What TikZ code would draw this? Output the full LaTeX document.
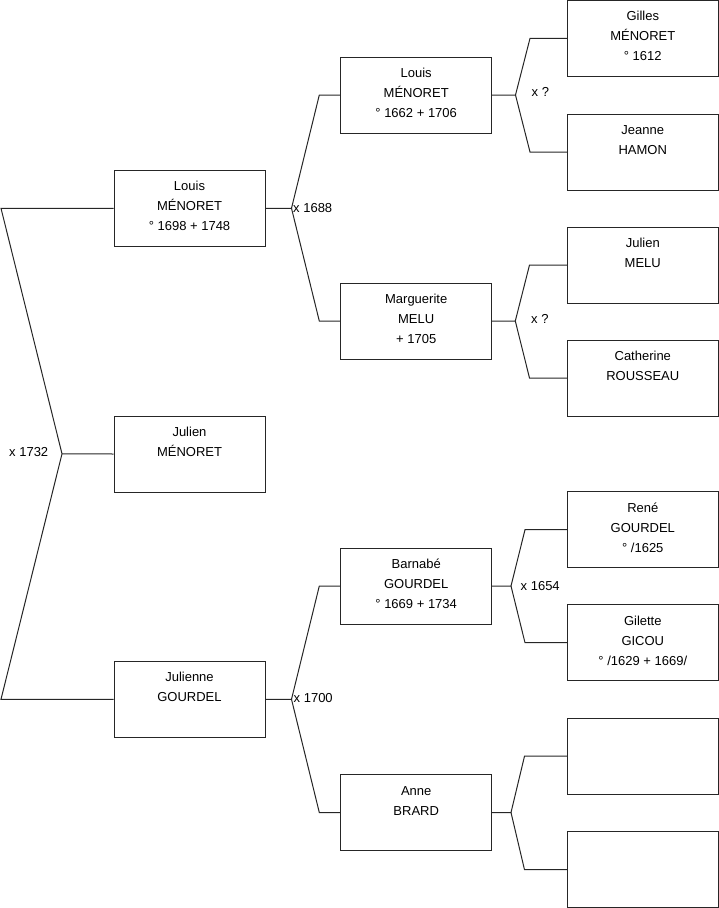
\documentclass[tikz,border=0pt]{standalone}
\usepackage{fontspec}
\setmainfont{Liberation Sans}
\begin{document}
\begin{tikzpicture}[x=1pt,y=-1pt,
  pbox/.style={draw=black!85, line width=1pt, minimum width=151pt, minimum height=76pt, inner sep=0pt, fill=white},
  ptext/.style={anchor=north, inner sep=0pt, align=center, font=\fontsize{13}{20}\selectfont},
  conn/.style={draw=black!85, line width=1pt},
  mlabel/.style={anchor=base west, inner sep=0pt, font=\fontsize{13}{16}\selectfont}]
\useasboundingbox (0,0) rectangle (719,908);
% boxes
\node[pbox] (A) at (189.5,208.3) {};
\node[pbox] (B) at (189.5,454) {};
\node[pbox] (C) at (189.5,699.3) {};
\node[pbox] (D) at (416.2,95) {};
\node[pbox] (E) at (416.2,321) {};
\node[pbox] (F) at (416.2,586) {};
\node[pbox] (G) at (416.2,812.5) {};
\node[pbox] (H) at (642.8,38.4) {};
\node[pbox] (I) at (642.8,152) {};
\node[pbox] (J) at (642.8,265) {};
\node[pbox] (K) at (642.8,378) {};
\node[pbox] (L) at (642.8,529.7) {};
\node[pbox] (M) at (642.8,642.7) {};
\node[pbox] (N) at (642.8,756.2) {};
\node[pbox] (O) at (642.8,869.7) {};
% texts
\newcommand{\fl}{\rule{0pt}{14pt}}
\node[ptext] (At) at ([yshift=-6.8pt]A.north) {\fl Louis\\MÉNORET\\° 1698 + 1748};
\node[ptext] (Bt) at ([yshift=-6.8pt]B.north) {\fl Julien\\MÉNORET};
\node[ptext] (Ct) at ([yshift=-6.8pt]C.north) {\fl Julienne\\GOURDEL};
\node[ptext] (Dt) at ([yshift=-6.8pt]D.north) {\fl Louis\\MÉNORET\\° 1662 + 1706};
\node[ptext] (Et) at ([yshift=-6.8pt]E.north) {\fl Marguerite\\MELU\\+ 1705};
\node[ptext] (Ft) at ([yshift=-6.8pt]F.north) {\fl Barnabé\\GOURDEL\\° 1669 + 1734};
\node[ptext] (Gt) at ([yshift=-6.8pt]G.north) {\fl Anne\\BRARD};
\node[ptext] (Ht) at ([yshift=-6.8pt]H.north) {\fl Gilles\\MÉNORET\\° 1612};
\node[ptext] (It) at ([yshift=-6.8pt]I.north) {\fl Jeanne\\HAMON};
\node[ptext] (Jt) at ([yshift=-6.8pt]J.north) {\fl Julien\\MELU};
\node[ptext] (Kt) at ([yshift=-6.8pt]K.north) {\fl Catherine\\ROUSSEAU};
\node[ptext] (Lt) at ([yshift=-6.8pt]L.north) {\fl René\\GOURDEL\\° /1625};
\node[ptext] (Mt) at ([yshift=-6.8pt]M.north) {\fl Gilette\\GICOU\\° /1629 + 1669/};
% fork coordinates
\coordinate (l1) at (1,208.3);
\coordinate (l0) at (62,453.8);
\coordinate (l2) at (1,699.3);
\coordinate (fA) at (291.5,208.3);
\coordinate (fA1) at (319.3,95);
\coordinate (fA2) at (319.3,321);
\coordinate (fC) at (291.5,699.3);
\coordinate (fC1) at (319.3,586);
\coordinate (fC2) at (319.3,812.5);
\coordinate (fD) at (515.5,95);
\coordinate (fD1) at (530,38.4);
\coordinate (fD2) at (530,152);
\coordinate (fE) at (515.3,321);
\coordinate (fE1) at (529.5,265);
\coordinate (fE2) at (529.5,378);
\coordinate (fF) at (511,586);
\coordinate (fF1) at (525,529.7);
\coordinate (fF2) at (525,642.7);
\coordinate (fG) at (511,812.5);
\coordinate (fG1) at (524.5,756.2);
\coordinate (fG2) at (524.5,869.7);
% connectors
\draw[conn] (A.west) -- (l1) -- (l0) -- (l2) -- (C.west);
\draw[conn] (l0) -- (B.west);
\draw[conn] (A.east) -- (fA) -- (fA1) -- (D.west);
\draw[conn] (fA) -- (fA2) -- (E.west);
\draw[conn] (C.east) -- (fC) -- (fC1) -- (F.west);
\draw[conn] (fC) -- (fC2) -- (G.west);
\draw[conn] (D.east) -- (fD) -- (fD1) -- (H.west);
\draw[conn] (fD) -- (fD2) -- (I.west);
\draw[conn] (E.east) -- (fE) -- (fE1) -- (J.west);
\draw[conn] (fE) -- (fE2) -- (K.west);
\draw[conn] (F.east) -- (fF) -- (fF1) -- (L.west);
\draw[conn] (fF) -- (fF2) -- (M.west);
\draw[conn] (G.east) -- (fG) -- (fG1) -- (N.west);
\draw[conn] (fG) -- (fG2) -- (O.west);
% labels
\node[mlabel] (x0) at (9,456.5) {x 1732};
\node[mlabel] (xA) at (293,212) {x 1688};
\node[mlabel] (xC) at (293.5,702.5) {x 1700};
\node[mlabel] (xD) at (531.5,96.8) {x ?};
\node[mlabel] (xE) at (531,323.3) {x ?};
\node[mlabel] (xF) at (520.5,590) {x 1654};
\end{tikzpicture}
\end{document}
